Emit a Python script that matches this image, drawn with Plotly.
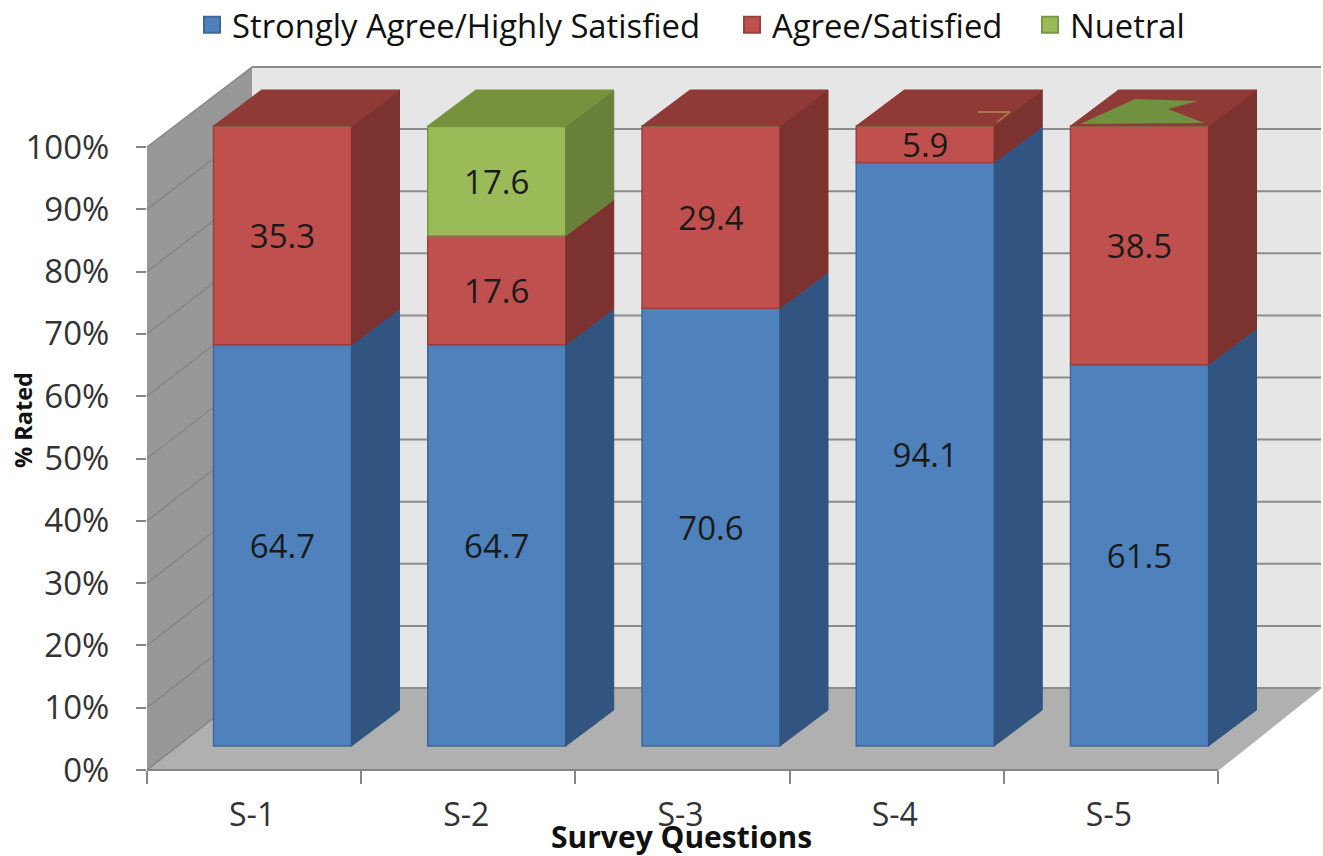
import plotly.graph_objects as go

# ---- data ----
categories = ["S-1", "S-2", "S-3", "S-4", "S-5"]
strongly_agree = [64.7, 64.7, 70.6, 94.1, 61.5]
agree = [35.3, 17.6, 29.4, 5.9, 38.5]
neutral = [0, 17.6, 0, 0, 0]
percent_ticks = [0, 10, 20, 30, 40, 50, 60, 70, 80, 90, 100]
percent_labels = [f"{t}%" for t in percent_ticks]

series_names = ["Strongly Agree/Highly Satisfied", "Agree/Satisfied", "Nuetral"]
front_colors = ["#4f81bd", "#c0504d", "#9bbb59"]
edge_colors = ["#3f6797", "#9a403e", "#7c9647"]
side_colors = ["#315580", "#7c322f", "#68803a"]
top_colors = ["#3b659a", "#8f3a36", "#76923c"]

# ---- layout geometry (pixels) ----
W, H = 1323, 856
BAR_X0, BAR_STEP, BAR_W = 282.5, 214.25, 138.0
BAR_Y0, PX_PER_PCT = 746.0, 6.2
DX_PX, DY_PX = 48.0, 36.0
FONT = "Open Sans"

bar_width = BAR_W / BAR_STEP
dx = DX_PX / BAR_STEP
dy = DY_PX / PX_PER_PCT
xs = list(range(len(categories)))

fig = go.Figure()

stacks = [strongly_agree, agree, neutral]
base = [0.0] * len(categories)
for k, vals in enumerate(stacks):
    fig.add_trace(go.Bar(
        x=xs, y=vals, base=base, width=bar_width, name=series_names[k],
        marker=dict(color=front_colors[k], line=dict(color=edge_colors[k], width=1.5)),
        text=[f"{v}" if v else "" for v in vals],
        textposition="inside", insidetextanchor="middle", constraintext="none",
        textangle=0, textfont=dict(family=FONT, size=33, color="#1a1a1a"),
        showlegend=False, hoverinfo="skip",
    ))
    # right-hand side faces of the extruded columns
    px, py = [], []
    for i in xs:
        if not vals[i]:
            continue
        r = i + bar_width / 2
        b, t = base[i], base[i] + vals[i]
        px += [r, r + dx, r + dx, r, r, None]
        py += [b, b + dy, t + dy, t, b, None]
    fig.add_trace(go.Scatter(
        x=px, y=py, mode="lines", fill="toself", fillcolor=side_colors[k],
        line=dict(color=side_colors[k], width=1), showlegend=False, hoverinfo="skip",
    ))
    base = [b + v for b, v in zip(base, vals)]

# top faces, coloured by the topmost non-empty series
for k in range(3):
    px, py = [], []
    for i in xs:
        top_k = max(j for j in range(3) if stacks[j][i] > 0)
        if top_k != k:
            continue
        l, r = i - bar_width / 2, i + bar_width / 2
        t = 100.0
        px += [l, l + dx, r + dx, r, l, None]
        py += [t, t + dy, t + dy, t, t, None]
    if px:
        fig.add_trace(go.Scatter(
            x=px, y=py, mode="lines", fill="toself", fillcolor=top_colors[k],
            line=dict(color=top_colors[k], width=1), showlegend=False, hoverinfo="skip",
        ))

# legend entries, one positioned legend per series
legend_ids = ["legend", "legend2", "legend3"]
legend_left = [192, 732, 1030]
for k in range(3):
    fig.add_trace(go.Scatter(
        x=[None], y=[None], mode="markers", name=series_names[k], legend=legend_ids[k],
        marker=dict(symbol="square", size=16, color=front_colors[k],
                    line=dict(color=edge_colors[k], width=2)),
    ))

# carrier for the visible category / percent axes
fig.add_trace(go.Scatter(
    x=categories, y=[None] * len(categories), xaxis="x2", yaxis="y2",
    mode="markers", showlegend=False, hoverinfo="skip",
))


# ---- pseudo-3D walls, floor and grid ----
def paper(xpx, ypx):
    return xpx / W, 1 - ypx / H


def poly(points, fill):
    path = "M" + "L".join("{:.5f},{:.5f}".format(*paper(*p)) for p in points) + "Z"
    return dict(type="path", xref="paper", yref="paper", path=path, fillcolor=fill,
                line=dict(width=0), layer="below")


def seg(p0, p1, color, width, layer="below"):
    x0, y0 = paper(*p0)
    x1, y1 = paper(*p1)
    return dict(type="line", xref="paper", yref="paper", x0=x0, y0=y0, x1=x1, y1=y1,
                line=dict(color=color, width=width), layer=layer)


shapes = [
    poly([(252, 67), (1321, 67), (1321, 688), (252, 688)], "#e6e6e6"),
    poly([(147, 147), (252, 67), (252, 688), (147, 770)], "#989898"),
    poly([(147, 770), (252, 688), (1321, 688), (1218, 770)], "#b0b0b0"),
]
for t in percent_ticks:
    front_y = 770 - 6.23 * t
    back_y = 688 - 6.21 * t
    shapes.append(seg((147, front_y), (252, back_y), "#868686", 1.5))
    shapes.append(seg((252, back_y), (1321, back_y), "#8c8c8c", 2))
shapes.append(seg((147, 770), (1218, 770), "#858585", 2))
shapes.append(seg((1218, 770), (1321, 688), "#b0b0b0", 1.5))

# compression-like sliver of the empty neutral series on top of S-5 and S-4
shapes.append(dict(
    type="path", xref="paper", yref="paper", layer="above",
    path="M" + "L".join("{:.5f},{:.5f}".format(*paper(*p)) for p in
                        [(1080, 124), (1135, 99), (1198, 101), (1168, 109), (1204, 123)]) + "Z",
    fillcolor="#6f9140", line=dict(width=0),
))
shapes.append(seg((978, 112), (1010, 112), "#b98a5a", 1.5, "above"))
shapes.append(seg((1010, 112), (997, 122), "#a9843f", 1.5, "above"))

legend_layout = {
    legend_ids[k]: dict(
        orientation="h", x=legend_left[k] / W, xanchor="left", y=1 - 25 / H, yanchor="middle",
        font=dict(family=FONT, size=32.8, color="#111111"),
        bgcolor="rgba(0,0,0,0)", itemclick=False, itemdoubleclick=False,
    )
    for k in range(3)
}

fig.update_layout(
    width=W, height=H, margin=dict(l=0, r=0, t=0, b=0, autoexpand=False),
    paper_bgcolor="white", plot_bgcolor="rgba(0,0,0,0)",
    barmode="overlay", shapes=shapes,
    font=dict(family=FONT, color="#222222"),
    xaxis=dict(
        domain=[0, 1], range=[-BAR_X0 / BAR_STEP, (W - BAR_X0) / BAR_STEP],
        visible=False, fixedrange=True,
    ),
    yaxis=dict(
        domain=[0, 1], range=[(BAR_Y0 - H) / PX_PER_PCT, BAR_Y0 / PX_PER_PCT],
        visible=False, fixedrange=True,
    ),
    xaxis2=dict(
        domain=[147 / W, 1218 / W], anchor="y2", type="category",
        categoryorder="array", categoryarray=categories, range=[-0.5, 4.5],
        tickson="boundaries", ticks="outside", ticklen=13, tickwidth=1.5, tickcolor="#868686",
        showgrid=False, zeroline=False, showline=False,
        tickfont=dict(family=FONT, size=32, color="#333333"),
        ticklabelstandoff=23, ticklabelshift=-2,
        automargin=False, fixedrange=True,
    ),
    yaxis2=dict(
        domain=[1 - 770 / H, 1 - 147 / H], anchor="x2", range=[0, 100],
        tickmode="array", tickvals=percent_ticks, ticktext=percent_labels,
        ticks="outside", ticklen=10, tickwidth=1.5, tickcolor="#868686",
        showgrid=False, zeroline=False, showline=False,
        tickfont=dict(family=FONT, size=33, color="#333333"),
        ticklabelstandoff=20,
        automargin=False, fixedrange=True,
    ),
    annotations=[
        dict(
            text="<b>% Rated</b>", xref="paper", yref="paper", x=23 / W, y=1 - 420 / H,
            showarrow=False, textangle=-90, xanchor="center", yanchor="middle",
            font=dict(family=FONT, size=23.5, color="#111111"),
        ),
        dict(
            text="<b>Survey Questions</b>", xref="paper", yref="paper", x=682 / W, y=1 - 836 / H,
            showarrow=False, xanchor="center", yanchor="middle",
            font=dict(family=FONT, size=30, color="#111111"),
        ),
    ],
    **legend_layout,
)

fig.write_html("out.html", config={"displayModeBar": False},
               post_script="document.body.style.margin='0';")
